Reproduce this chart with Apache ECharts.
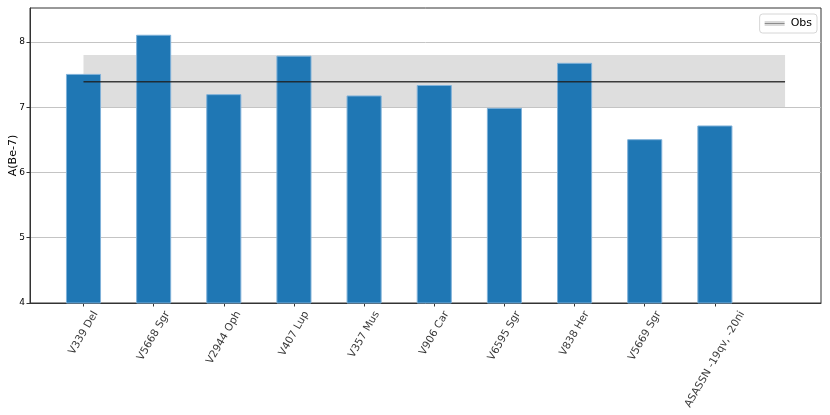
<!DOCTYPE html>
<html>
<head>
<meta charset="utf-8">
<script src="https://cdn.jsdelivr.net/npm/echarts@6/dist/echarts.min.js"></script>
<style>
html,body{margin:0;padding:0;background:#fff;}
#chart{width:830px;height:415px;}
</style>
</head>
<body>
<div id="chart"></div>
<script>
// Data
var categories = ['V339 Del', 'V5668 Sgr', 'V2944 Oph', 'V407 Lup', 'V357 Mus', 'V906 Car', 'V6595 Sgr', 'V838 Her', 'V5669 Sgr', 'ASASSN -19qv, -20ni'];
var beValues = [7.51, 8.11, 7.20, 7.79, 7.18, 7.34, 6.99, 7.68, 6.51, 6.72];
var obsX = [0, 10];
var obsMean = 7.39;
var obsLow = 7.0;
var obsHigh = 7.8;
var yTicks = [4, 5, 6, 7, 8];
var yMin = 4;

var chart = echarts.init(document.getElementById('chart'), null, {renderer: 'canvas'});
var FONT = 'DejaVu Sans';
var LABEL_SIZE = 10.5;
var idx = categories.map(function (c, i) { return i; });

// matplotlib-style rotated tick labels: bounding box centred under the tick
var ctx = document.createElement('canvas').getContext('2d');
ctx.font = LABEL_SIZE + 'px "' + FONT + '"';
var ang = 60 * Math.PI / 180;
var H = LABEL_SIZE * 1.2;
var GAP = 6;
function labelDrop(text) {
  var L = ctx.measureText(text).width;
  return GAP + (L * Math.sin(ang) + H * Math.cos(ang)) / 2;
}

var legendIconColor = {
  type: 'linear', x: 0, y: 0, x2: 0, y2: 1,
  colorStops: [
    {offset: 0, color: '#d9d9d9'}, {offset: 0.38, color: '#d9d9d9'},
    {offset: 0.45, color: '#8c8c8c'}, {offset: 0.55, color: '#8c8c8c'},
    {offset: 0.62, color: '#d9d9d9'}, {offset: 1, color: '#d9d9d9'}
  ]
};

var option = {
  animation: false,
  backgroundColor: '#ffffff',
  textStyle: {fontFamily: FONT},
  grid: {left: 30, top: 8, right: 9, bottom: 112, containLabel: false, outerBoundsMode: 'none', show: true, borderColor: '#333', borderWidth: 1, backgroundColor: 'transparent'},
  legend: {
    right: 13, top: 14,
    orient: 'horizontal',
    data: [{name: 'Obs', icon: 'path://M0,0 L24,0 L24,6 L0,6 Z'}],
    itemWidth: 22, itemHeight: 5,
    itemStyle: {color: legendIconColor, borderWidth: 0},
    textStyle: {fontFamily: FONT, fontSize: 11, color: '#000'},
    itemGap: 6,
    padding: [4, 5, 4, 5],
    borderColor: '#d6d6d6', borderWidth: 1, borderRadius: 3,
    backgroundColor: 'rgba(255,255,255,0.8)'
  },
  xAxis: {
    type: 'value',
    min: -0.7625, max: 10.5125,
    axisLine: {show: true, onZero: false, lineStyle: {color: '#333', width: 1}},
    axisTick: {show: true, customValues: idx, length: 3.5, lineStyle: {color: '#333'}},
    splitLine: {show: false},
    axisLabel: {show: false}
  },
  yAxis: {
    type: 'value',
    min: yMin, max: 8.52, interval: 1,
    name: 'A(Be-7)', nameLocation: 'middle', nameGap: 11, nameMoveOverlap: false,
    nameTextStyle: {fontFamily: FONT, fontSize: 11, color: '#000'},
    axisLine: {show: true, onZero: false, lineStyle: {color: '#333', width: 1}},
    axisTick: {show: true, customValues: yTicks, length: 3.5, lineStyle: {color: '#333'}},
    axisLabel: {customValues: yTicks, fontFamily: FONT, fontSize: 9, color: '#000', margin: 5},
    splitLine: {show: true, lineStyle: {color: '#c4c4c4', width: 1}}
  },
  series: [
    {
      type: 'bar',
      name: 'Be',
      data: beValues.map(function (v, i) { return [i, v]; }),
      barWidth: '50%',
      itemStyle: {color: '#1f77b4', borderColor: '#7fb1d9', borderWidth: 1},
      z: 2
    },
    {
      type: 'line',
      name: 'Obs',
      data: obsX.map(function (x) { return [x, obsMean]; }),
      symbol: 'none',
      lineStyle: {color: 'rgba(30,30,30,0.85)', width: 1.6},
      itemStyle: {color: legendIconColor},
      z: 3,
      markArea: {
        silent: true,
        itemStyle: {color: 'rgba(200,200,200,0.6)'},
        data: [[{coord: [obsX[0], obsLow]}, {coord: [obsX[1], obsHigh]}]]
      }
    },
    {
      // category tick labels, anchored at each tick on the x axis
      type: 'scatter',
      name: 'labels',
      silent: true,
      clip: false,
      symbolSize: 0,
      z: 5,
      data: categories.map(function (c, i) {
        return {value: [i, yMin], label: {position: [0, labelDrop(c)]}};
      }),
      label: {
        show: true,
        rotate: 60,
        align: 'center',
        verticalAlign: 'middle',
        fontFamily: FONT,
        fontSize: LABEL_SIZE,
        color: '#000',
        formatter: function (p) { return categories[p.dataIndex]; }
      }
    }
  ]
};
chart.setOption(option);
</script>
</body>
</html>
